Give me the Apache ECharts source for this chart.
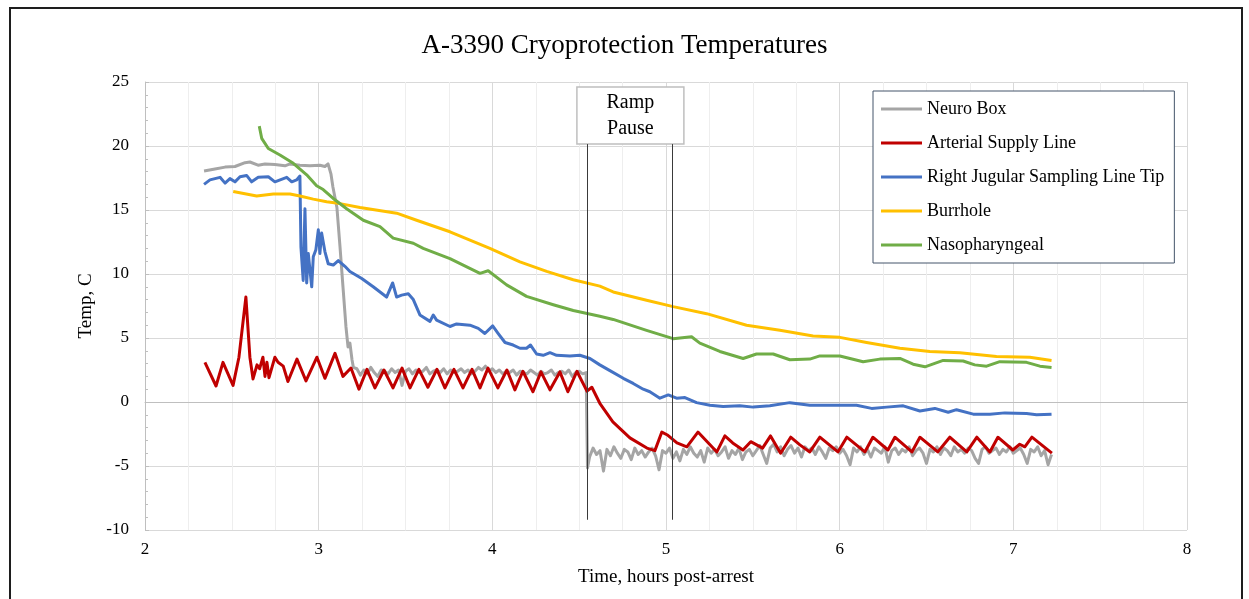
<!DOCTYPE html>
<html>
<head>
<meta charset="utf-8">
<title>A-3390 Cryoprotection Temperatures</title>
<script src="https://cdn.jsdelivr.net/npm/echarts@6/dist/echarts.min.js"></script>
<style>
  html, body { margin: 0; padding: 0; background: #fff; }
  #frame { position: absolute; left: 9px; top: 7px; width: 1230px; height: 700px; border: 2px solid #1e1e1e; }
  #main { position: absolute; left: 0; top: 0; width: 1249px; height: 599px; }
</style>
</head>
<body>
<div id="frame"></div>
<div id="main"></div>
<script>
// time in hours post-arrest, temps in C

// Neuro Box: warm plateau and fall, then two noisy stretches
var neuroTime = [2.340, 2.403, 2.461, 2.518, 2.576, 2.604, 2.651, 2.691, 2.748, 2.806, 2.835, 2.892, 2.950, 3.007, 3.036, 3.054, 3.071, 3.082, 3.105, 3.123, 3.140, 3.157, 3.169, 3.180, 3.192, 3.200];
var neuroTemp = [18.05, 18.2, 18.35, 18.4, 18.7, 18.75, 18.5, 18.6, 18.55, 18.45, 18.6, 18.5, 18.45, 18.5, 18.4, 18.6, 17.8, 16.8, 15.2, 12.1, 9.0, 5.9, 4.3, 4.6, 3.3, 2.7];
var neuroMidRange = [3.22, 4.54];
var neuroMidTemp = [2.6, 2.1, 2.5, 2.2, 2.7, 2.3, 2.0, 2.5, 2.4, 2.2, 2.6, 2.3, 2.5, 1.3, 2.4, 2.6, 2.2, 2.5, 2.3, 2.4,
  2.7, 2.2, 2.4, 2.5, 2.3, 2.6, 2.2, 2.5, 2.3, 2.4, 2.6, 2.3, 2.5, 2.2, 2.4, 2.7, 2.5, 2.8, 2.4, 2.6,
  2.3, 2.5, 2.2, 2.4, 2.3, 2.5, 2.1, 2.4, 2.3, 2.2, 2.5, 2.3, 2.1, 2.4, 2.2, 2.3, 2.5, 2.1, 2.3, 2.4,
  2.2, 2.5, 2.0, 2.3, 2.4, 2.2, 2.3];
var neuroDropTime = [4.548];
var neuroDropTemp = [-5.15];
var neuroColdRange = [4.56, 7.22];
var neuroColdTemp = [-4.3, -3.6, -4.1, -3.8, -5.4, -3.7, -4.2, -3.5, -4.0, -4.4, -3.7, -3.9, -4.5, -3.6, -4.1, -3.8, -4.3, -3.9, -3.6, -4.2, -5.3, -3.8, -4.0,
  -3.6, -4.4, -3.9, -4.6, -3.7, -4.1, -3.5, -4.0, -4.3, -3.8, -4.7, -3.6, -4.0, -3.7, -4.2, -3.9, -3.5, -4.4, -3.8, -4.1, -3.6, -4.5, -3.9, -3.7, -4.2,
  -3.8, -3.4, -4.1, -4.8, -3.6, -3.3, -3.9, -3.5, -4.2, -3.7, -3.4, -4.0, -3.6, -4.3, -3.5, -3.8, -3.6, -4.1, -3.5, -3.9, -4.4, -3.6, -3.8, -3.5, -4.0,
  -3.7, -4.2, -4.9, -3.6, -3.9, -3.5, -4.1, -3.7, -4.3, -3.6, -3.8, -4.0, -3.5, -4.7, -3.8, -3.6, -4.1, -3.7, -3.9, -3.5, -4.2, -3.8, -3.6, -4.0, -4.8,
  -3.7, -3.9, -3.5, -4.1, -3.6, -3.8, -4.2, -3.5, -3.9, -3.7, -4.0, -3.6, -3.8, -4.4, -4.8, -3.7, -3.5, -4.0, -3.8, -3.6, -4.1, -3.7, -3.9, -3.5, -4.0,
  -3.8, -3.6, -4.1, -4.8, -3.7, -3.9, -3.5, -4.2, -3.8, -4.9, -4.1];

// Arterial Supply Line
var arterialTime = [2.345, 2.409, 2.449, 2.507, 2.541, 2.581, 2.604, 2.622, 2.645, 2.660, 2.679, 2.691, 2.702, 2.714, 2.748, 2.766, 2.796, 2.823, 2.875, 2.927,
  2.990, 3.036, 3.094, 3.140, 3.186, 3.232, 3.278, 3.324, 3.376, 3.428, 3.480, 3.526, 3.577, 3.629, 3.681, 3.727, 3.779, 3.831, 3.883, 3.929,
  3.975, 4.032, 4.084, 4.130, 4.176, 4.234, 4.280, 4.332, 4.389, 4.435, 4.487, 4.545, 4.573, 4.619, 4.694, 4.792, 4.890, 4.936, 4.976, 5.011,
  5.063, 5.120, 5.184, 5.293, 5.339, 5.384, 5.443, 5.488, 5.556, 5.602, 5.660, 5.718, 5.771, 5.828, 5.886, 5.990, 6.041, 6.145, 6.191, 6.278,
  6.318, 6.416, 6.462, 6.565, 6.634, 6.732, 6.790, 6.865, 6.911, 6.997, 7.037, 7.066, 7.107, 7.222];
var arterialTemp = [3.1, 1.25, 3.1, 1.3, 3.5, 8.2, 3.5, 1.8, 2.9, 2.6, 3.5, 2.0, 3.1, 1.9, 3.5, 3.1, 2.8, 1.6, 3.35, 1.65,
  3.5, 1.85, 3.8, 2.0, 2.65, 1.0, 2.55, 1.1, 2.5, 1.1, 2.65, 1.1, 2.55, 1.15, 2.55, 1.1, 2.55, 1.1, 2.55, 1.1,
  2.65, 1.1, 2.5, 0.95, 2.4, 0.8, 2.35, 0.95, 2.35, 0.8, 2.4, 0.85, 1.15, -0.1, -1.55, -2.8, -3.6, -3.8, -2.35, -2.6,
  -3.2, -3.5, -2.35, -3.9, -2.65, -3.2, -3.75, -3.1, -3.6, -2.65, -4.0, -2.75, -3.35, -3.9, -2.75, -3.9, -2.75, -3.9, -2.75, -3.75,
  -2.75, -3.9, -2.75, -3.9, -2.75, -3.9, -2.75, -3.9, -2.75, -3.75, -3.3, -3.5, -2.75, -4.0];

// Right Jugular Sampling Line Tip
var jugularTime = [2.340, 2.374, 2.432, 2.461, 2.489, 2.518, 2.547, 2.585, 2.614, 2.652, 2.710, 2.748, 2.816, 2.845, 2.873, 2.892, 2.898, 2.911, 2.921, 2.931,
  2.940, 2.960, 2.969, 2.984, 2.998, 3.007, 3.017, 3.036, 3.055, 3.084, 3.113, 3.151, 3.180, 3.248, 3.314, 3.391, 3.426, 3.449, 3.478, 3.516,
  3.545, 3.583, 3.641, 3.660, 3.679, 3.756, 3.794, 3.871, 3.919, 3.957, 4.002, 4.034, 4.073, 4.120, 4.159, 4.197, 4.220, 4.255, 4.293, 4.332,
  4.370, 4.447, 4.504, 4.562, 4.619, 4.677, 4.754, 4.811, 4.869, 4.907, 4.965, 5.013, 5.061, 5.109, 5.176, 5.253, 5.329, 5.425, 5.502, 5.598,
  5.713, 5.828, 5.963, 6.097, 6.184, 6.270, 6.366, 6.462, 6.548, 6.625, 6.673, 6.769, 6.865, 6.951, 7.076, 7.134, 7.220];
var jugularTemp = [17.0, 17.35, 17.55, 17.1, 17.45, 17.2, 17.6, 17.7, 17.2, 17.55, 17.6, 17.2, 17.55, 17.2, 17.35, 17.65, 12.1, 9.5, 15.1, 9.3,
  11.6, 9.0, 11.35, 11.9, 13.45, 11.6, 13.2, 11.75, 10.8, 10.7, 11.05, 10.6, 10.2, 9.65, 9.0, 8.2, 9.3, 8.2, 8.35, 8.45,
  8.0, 6.8, 6.3, 6.8, 6.4, 5.9, 6.1, 6.0, 5.75, 5.35, 5.95, 5.35, 4.65, 4.45, 4.2, 4.2, 4.45, 3.75, 3.65, 3.85,
  3.65, 3.6, 3.65, 3.4, 2.9, 2.45, 1.85, 1.45, 1.0, 0.8, 0.3, 0.55, 0.3, 0.35, -0.05, -0.25, -0.35, -0.3, -0.4, -0.3,
  -0.05, -0.25, -0.25, -0.25, -0.5, -0.4, -0.3, -0.7, -0.5, -0.8, -0.6, -0.95, -0.95, -0.85, -0.9, -1.0, -0.95];

// Burrhole
var burrholeTime = [2.508, 2.643, 2.739, 2.835, 2.892, 2.969, 3.046, 3.123, 3.238, 3.449, 3.564, 3.756, 3.986, 4.159, 4.313, 4.466, 4.619, 4.696, 4.888, 5.041,
  5.234, 5.464, 5.656, 5.847, 6.001, 6.155, 6.347, 6.519, 6.692, 6.903, 7.095, 7.220];
var burrholeTemp = [16.45, 16.1, 16.25, 16.25, 16.1, 15.85, 15.65, 15.5, 15.2, 14.75, 14.2, 13.3, 12.0, 10.95, 10.2, 9.55, 9.05, 8.6, 7.95, 7.45,
  6.9, 6.0, 5.6, 5.15, 5.05, 4.65, 4.2, 3.95, 3.85, 3.55, 3.5, 3.25];

// Nasopharyngeal
var nasoTime = [2.658, 2.672, 2.710, 2.777, 2.854, 2.931, 2.988, 3.026, 3.084, 3.161, 3.257, 3.353, 3.429, 3.545, 3.602, 3.756, 3.929, 3.976, 4.082, 4.197,
  4.351, 4.466, 4.619, 4.696, 4.888, 5.041, 5.147, 5.195, 5.310, 5.444, 5.521, 5.617, 5.713, 5.828, 5.886, 6.001, 6.135, 6.231, 6.347, 6.423,
  6.491, 6.596, 6.711, 6.778, 6.846, 6.922, 7.076, 7.153, 7.220];
var nasoTemp = [21.55, 20.6, 19.8, 19.3, 18.65, 17.75, 16.9, 16.6, 15.9, 15.1, 14.2, 13.7, 12.8, 12.4, 12.0, 11.2, 10.05, 10.25, 9.15, 8.25,
  7.6, 7.15, 6.7, 6.45, 5.6, 4.95, 5.1, 4.6, 3.95, 3.4, 3.75, 3.75, 3.3, 3.35, 3.6, 3.6, 3.15, 3.35, 3.4, 2.95,
  2.75, 3.25, 3.2, 2.9, 2.8, 3.15, 3.1, 2.8, 2.7];

// ramp pause annotation (data coordinates)
var rampPauseTimes = [4.549, 5.038];
var rampLineTemps = [-9.2, 20.15];
var rampBoxTimes = [4.487, 5.103];
var rampBoxTemps = [24.6, 20.15];

var seriesNames = ['Neuro Box', 'Arterial Supply Line', 'Right Jugular Sampling Line Tip', 'Burrhole', 'Nasopharyngeal'];
var seriesColors = ['#a5a5a5', '#c00000', '#4472c4', '#ffc000', '#70ad47'];

var font = "'Liberation Serif', 'Times New Roman', serif";

function pairs(t, v) {
  return t.map(function (x, i) { return [x, v[i]]; });
}
// samples logged at an even rate between two times
function evenly(range, v) {
  var step = (range[1] - range[0]) / (v.length - 1);
  return v.map(function (y, i) { return [range[0] + i * step, y]; });
}

var neuroData = pairs(neuroTime, neuroTemp)
  .concat(evenly(neuroMidRange, neuroMidTemp))
  .concat(pairs(neuroDropTime, neuroDropTemp))
  .concat(evenly(neuroColdRange, neuroColdTemp));

var allData = [
  neuroData,
  pairs(arterialTime, arterialTemp),
  pairs(jugularTime, jugularTemp),
  pairs(burrholeTime, burrholeTemp),
  pairs(nasoTime, nasoTemp)
];

var series = seriesNames.map(function (name, i) {
  return {
    name: name,
    type: 'line',
    data: allData[i],
    showSymbol: false,
    symbol: 'none',
    color: seriesColors[i],
    lineStyle: { width: 3, color: seriesColors[i], join: 'round' }
  };
});

series.push({
  name: 'Ramp Pause',
  type: 'line',
  data: [],
  z: 10,
  markLine: {
    silent: true,
    symbol: ['none', 'none'],
    label: { show: false },
    lineStyle: { color: '#3a3a3a', width: 1, type: 'solid' },
    data: rampPauseTimes.map(function (t) {
      return [{ coord: [t, rampLineTemps[0]] }, { coord: [t, rampLineTemps[1]] }];
    })
  },
  markArea: {
    silent: true,
    itemStyle: { color: '#ffffff', borderColor: '#bfbfbf', borderWidth: 1.5, opacity: 1 },
    label: {
      show: true,
      position: 'inside',
      formatter: 'Ramp\nPause',
      fontFamily: font,
      fontSize: 20,
      lineHeight: 26,
      color: '#000'
    },
    data: [[{ coord: [rampBoxTimes[0], rampBoxTemps[0]] }, { coord: [rampBoxTimes[1], rampBoxTemps[1]] }]]
  }
});

var myChart = echarts.init(document.getElementById('main'));

var option = {
  animation: false,
  backgroundColor: 'transparent',
  title: {
    text: 'A-3390 Cryoprotection Temperatures',
    left: 'center',
    top: 27,
    textStyle: { fontFamily: font, fontSize: 27, fontWeight: 'normal', color: '#000' }
  },
  legend: {
    data: seriesNames,
    orient: 'vertical',
    left: 873,
    top: 91,
    padding: [8, 10, 8, 8],
    itemGap: 14,
    icon: 'rect',
    itemWidth: 41,
    itemHeight: 3,
    backgroundColor: '#fff',
    borderColor: '#44546a',
    borderWidth: 1,
    textStyle: { fontFamily: font, fontSize: 18, lineHeight: 20, color: '#000' }
  },
  grid: { left: 145, right: 62, top: 82, bottom: 69 },
  xAxis: {
    type: 'value',
    min: 2,
    max: 8,
    interval: 1,
    name: 'Time, hours post-arrest',
    nameLocation: 'middle',
    nameGap: 38,
    nameTextStyle: { fontFamily: font, fontSize: 19, color: '#000' },
    axisLine: { show: true, lineStyle: { color: '#bfbfbf', width: 1 } },
    axisTick: { show: false },
    minorTick: { show: false, splitNumber: 4 },
    axisLabel: { fontFamily: font, fontSize: 17, color: '#000', margin: 11 },
    splitLine: { show: true, lineStyle: { color: '#d9d9d9', width: 1 } },
    minorSplitLine: { show: true, lineStyle: { color: '#eeeeee', width: 1 } }
  },
  yAxis: {
    type: 'value',
    min: -10,
    max: 25,
    interval: 5,
    name: 'Temp, C',
    nameLocation: 'middle',
    nameGap: 44,
    nameTextStyle: { fontFamily: font, fontSize: 19, color: '#000' },
    axisLine: { show: true, lineStyle: { color: '#bfbfbf', width: 1 } },
    axisTick: { show: true, inside: true, length: 4, lineStyle: { color: '#bfbfbf' } },
    minorTick: { show: true, splitNumber: 5, length: 3, lineStyle: { color: '#bfbfbf' } },
    axisLabel: { fontFamily: font, fontSize: 17, color: '#000', margin: 16 },
    splitLine: { show: true, lineStyle: { color: '#d9d9d9', width: 1 } }
  },
  series: series
};

myChart.setOption(option);
</script>
</body>
</html>
